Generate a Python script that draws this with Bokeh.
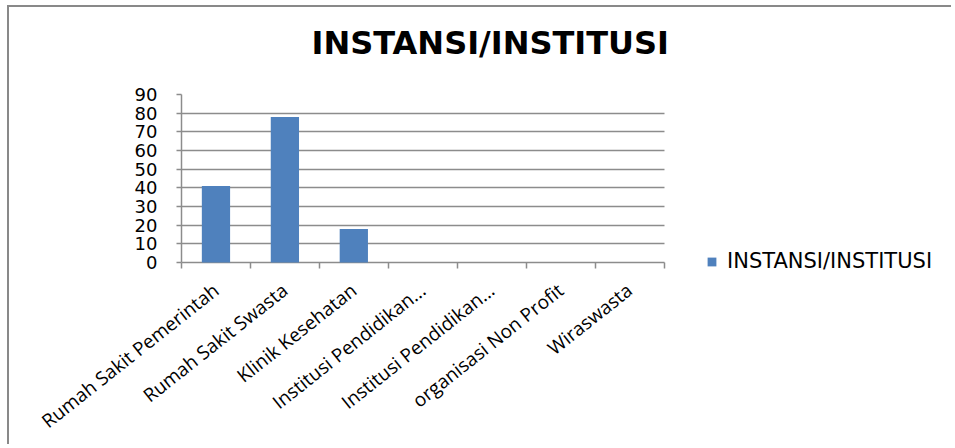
from bokeh.plotting import figure
from bokeh.models import Range1d, FixedTicker, Legend, LegendItem, ColumnDataSource, Title
from bokeh.core.properties import value
from bokeh.embed import file_html
from bokeh.resources import INLINE

# Data
categories = ["Rumah Sakit Pemerintah", "Rumah Sakit Swasta", "Klinik Kesehatan",
              "Institusi Pendidikan...", "Institusi Pendidikan...",
              "organisasi Non Profit", "Wiraswasta"]
counts = [41, 78, 18, 0, 0, 0, 0]
series_name = "INSTANSI/INSTITUSI"
chart_title = "INSTANSI/INSTITUSI"
y_ticks = [0, 10, 20, 30, 40, 50, 60, 70, 80, 90]

n = len(categories)
centers = [i + 0.5 for i in range(n)]
bounds = [i for i in range(n + 1)]
x_view_end = 11.2    # frame extends right so the legend can sit beside the bars
y_view_start = -6.9  # small room below zero for the legend row

src = ColumnDataSource(dict(x=centers, top=counts, name=categories))

p = figure(width=944, height=439, output_backend="svg", toolbar_location=None,
           x_range=Range1d(0, x_view_end), y_range=Range1d(y_view_start, 90),
           min_border_left=172, min_border_right=0,
           min_border_top=0, min_border_bottom=171)
p.styles = {"margin-left": "7px", "margin-top": "5px",
            "border-top": "2px solid #898989", "border-left": "2px solid #898989"}
p.outline_line_color = None
p.background_fill_color = "white"
p.border_fill_color = "white"

bars = p.vbar(x="x", top="top", width=0.41, bottom=0, source=src,
              fill_color="#4F81BD", line_color=None)

grid_color = "#8C8C8C"
# x axis (sits at the frame bottom; the zero grid line serves as its line)
p.xaxis.ticker = FixedTicker(ticks=centers, minor_ticks=bounds)
p.xaxis.bounds = (0, n)
p.xaxis.major_label_overrides = {c: lab for c, lab in zip(centers, categories)}
p.xaxis.axis_line_color = None
p.xaxis.major_tick_line_color = None
p.xaxis.major_tick_in = 0
p.xaxis.major_tick_out = 6
p.xaxis.minor_tick_line_color = grid_color
p.xaxis.minor_tick_in = 13
p.xaxis.minor_tick_out = -7
p.xaxis.minor_tick_line_width = 1.5
p.xaxis.major_label_orientation = 0.67
p.xaxis.major_label_text_font = "Open Sans"
p.xaxis.major_label_text_font_size = "19px"
p.xaxis.major_label_text_color = "#000000"
p.xaxis.major_label_standoff = 6
p.xgrid.grid_line_color = None

# y axis
p.yaxis.ticker = FixedTicker(ticks=y_ticks)
p.yaxis.bounds = (0, 90)
p.yaxis.axis_line_color = grid_color
p.yaxis.axis_line_width = 1.5
p.yaxis.major_tick_line_color = grid_color
p.yaxis.major_tick_line_width = 1.5
p.yaxis.major_tick_out = 5
p.yaxis.major_tick_in = 0
p.yaxis.minor_tick_line_color = None
p.yaxis.major_label_text_font = "DejaVu Sans"
p.yaxis.major_label_text_font_size = "18px"
p.yaxis.major_label_text_color = "#000000"
p.yaxis.major_label_standoff = 19
p.ygrid.grid_line_color = grid_color
p.ygrid.grid_line_width = 1.5
p.ygrid.bounds = (0, 90)
p.ygrid.cross_bounds = (0, n)

# spacer between title and plot area
p.add_layout(Title(text=" ", text_font_size="1px", standoff=16), "above")

# title
p.title.text = chart_title
p.title.align = "left"
p.title.offset = 130
p.title.standoff = 28
p.title.text_font = "DejaVu Sans"
p.title.text_font_style = "bold"
p.title.text_font_size = "32px"
p.title.text_color = "#000000"

legend = Legend(items=[LegendItem(label=value(series_name), renderers=[bars])],
                location=(525, 2), padding=0, margin=0,
                border_line_color=None, background_fill_alpha=0,
                glyph_width=11, glyph_height=11, label_standoff=10,
                label_text_font="DejaVu Sans", label_text_font_size="21px",
                label_text_color="#000000")
p.add_layout(legend, "center")

open("out.html", "w").write(file_html(p, INLINE))
